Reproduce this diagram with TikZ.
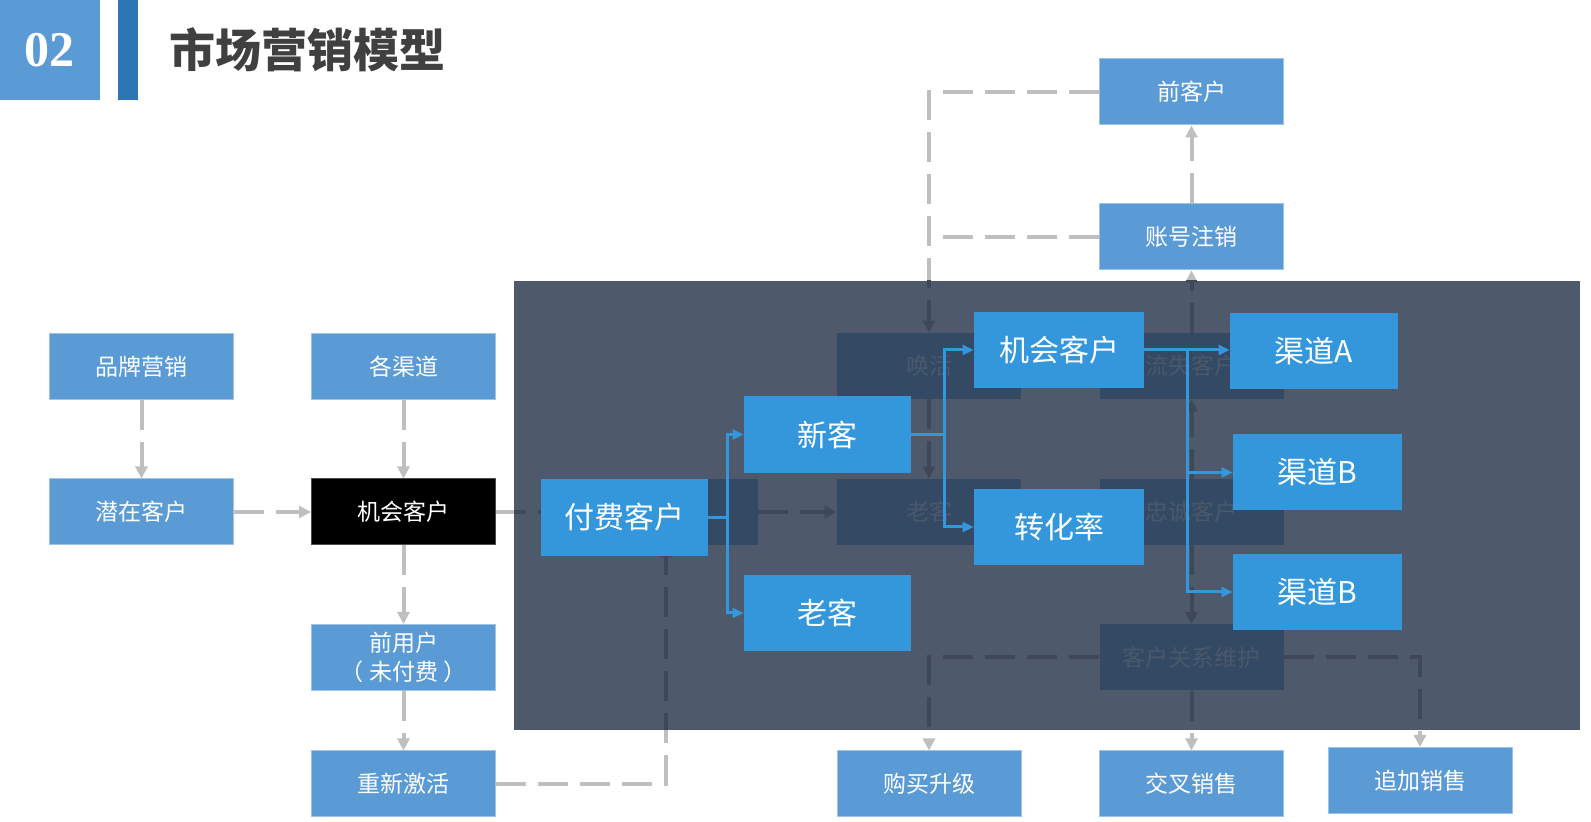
\documentclass[tikz,border=0pt]{standalone}
\usepackage{fontspec}
\setmainfont{Noto Sans CJK SC}
\newfontfamily\numfont{Liberation Serif}
\usetikzlibrary{positioning,arrows.meta,calc}
\definecolor{litefill}{RGB}{91,155,213}
\definecolor{liteline}{RGB}{157,195,230}
\definecolor{barblue}{RGB}{46,117,182}
\definecolor{hotfill}{RGB}{52,150,219}
\definecolor{veilc}{RGB}{78,90,107}
\definecolor{hidfill}{RGB}{52,74,100}
\definecolor{hidtext}{RGB}{74,88,108}
\definecolor{hidline}{RGB}{62,72,88}
\definecolor{linkgray}{RGB}{191,191,191}
\definecolor{titlegray}{RGB}{64,64,64}
\colorlet{linkc}{linkgray}
\pgfdeclarelayer{lines}
\pgfdeclarelayer{veil}
\pgfdeclarelayer{hid}
\pgfsetlayers{lines,veil,hid,main}
\tikzset{
  >={Triangle[length=6pt,width=6pt]},
  litebox/.style={draw=liteline,line width=0.5pt,fill=litefill,text=white,
    minimum width=92pt,minimum height=33pt,inner sep=0pt,align=center,
    font=\fontsize{11.5}{14.5}\selectfont},
  blackbox/.style={litebox,fill=black,draw=black!70},
  hidbox/.style={fill=hidfill,text=hidtext,minimum width=92pt,
    minimum height=33pt,inner sep=0pt,font=\fontsize{11.5}{14.5}\selectfont},
  hotbox/.style={fill=hotfill,text=white,minimum width=84pt,
    minimum height=38pt,inner sep=0pt,font=\fontsize{15}{18}\selectfont},
  dlink/.style={->,draw=linkc,line width=2pt,dash pattern=on 15pt off 6pt},
  flow/.style={-{Triangle[length=5.5pt,width=5pt]},draw=hotfill,line width=1.5pt},
}
% all gray dashed links, drawn twice (outside and under the veil)
\newcommand{\marketlinks}{%
  \draw[dlink] (brand) -- (pot);
  \draw[dlink] (chan) -- (opp);
  \draw[dlink] (pot) -- (opp);
  \draw[dlink] (opp) -- (prev);
  \draw[dlink] (prev) -- (react);
  \draw[dlink] (opp) -- (hpay);
  \draw[dlink] (hpay) -- (hold);
  \draw[dlink] (react.east) -| (hpay.south);
  \draw[dlink] (former.west) -| (wake.north);
  \draw[dlink,-] (cancel.west) -- (cancel.west -| wake.north);
  \draw[dlink] (cancel) -- (former);
  \draw[dlink] (lost) -- (cancel);
  \draw[dlink] (wake) -- (hold);
  \draw[dlink] (loyal) -- (lost);
  \draw[dlink] (loyal) -- (crm);
  \draw[dlink] (crm) -- (cross);
  \draw[dlink] (crm.west) -| (upg.north);
  \draw[dlink] (crm.east) -| (addon.north);
}
\begin{document}
\begin{tikzpicture}[x=0.5pt,y=-0.5pt]
  \useasboundingbox (0,0) rectangle (1591,822);
  % header
  \fill[litefill] (0,0) rectangle (100,100);
  \node[text=white,font=\numfont\bfseries\fontsize{25}{25}\selectfont] (num) at (50,50) {02};
  \fill[barblue] (118,0) rectangle (138,100);
  \node[anchor=west,inner sep=0pt,text=titlegray,
    font=\bfseries\fontsize{23}{23}\selectfont] (title) at (169,50) {市场营销模型};

  % boxes outside the veil
  \node[litebox] (brand) at (141.5,367) {品牌营销};
  \node[litebox] (chan) at (403.5,367) {各渠道};
  \node[litebox] (pot) at (141.5,512) {潜在客户};
  \node[blackbox] (opp) at (403.5,512) {机会客户};
  \node[litebox] (prev) at (403.5,657.5) {前用户\\（ 未付费 ）};
  \node[litebox] (react) at (403.5,784) {重新激活};
  \node[litebox] (former) at (1191.5,92) {前客户};
  \node[litebox] (cancel) at (1191.5,237) {账号注销};
  \node[litebox] (upg) at (929,784) {购买升级};
  \node[litebox] (cross) at (1191.5,784) {交叉销售};
  \node[litebox] (addon) at (1420,780.5) {追加销售};

  \begin{pgfonlayer}{veil}
    \fill[veilc] (514,281) rectangle (1580,730);
  \end{pgfonlayer}

  % boxes under the veil
  \begin{pgfonlayer}{hid}
    \node[hidbox] (hpay) at (665.5,512) {};
    \node[hidbox] (wake) at (929,366) {唤活};
    \node[hidbox] (hold) at (929,512) {老客};
    \node[hidbox] (lost) at (1191.5,366) {流失客户};
    \node[hidbox] (loyal) at (1191.5,512) {忠诚客户};
    \node[hidbox] (crm) at (1191.5,657.5) {客户关系维护};
  \end{pgfonlayer}

  \begin{pgfonlayer}{lines}
    \marketlinks
  \end{pgfonlayer}
  \begin{pgfonlayer}{hid}
    \begin{scope}
      \clip (514,281) rectangle (1580,730);
      \colorlet{linkc}{hidline}
      \marketlinks
    \end{scope}
  \end{pgfonlayer}

  % bright boxes on top
  \node[hotbox,minimum width=83.5pt,minimum height=38.5pt] (pay) at (624.5,517.5) {付费客户};
  \node[hotbox,minimum width=83.5pt,minimum height=38.5pt] (newc) at (827.5,434.5) {新客};
  \node[hotbox,minimum width=83.5pt] (oldc) at (827.5,613) {老客};
  \node[hotbox,minimum width=85pt] (opp2) at (1059,350) {机会客户};
  \node[hotbox,minimum width=85pt] (conv) at (1059,527) {转化率};
  \node[hotbox] (chA) at (1314,351) {渠道A};
  \node[hotbox,minimum width=84.5pt] (chB1) at (1317.5,472.5) {渠道B};
  \node[hotbox,minimum width=84.5pt] (chB2) at (1317.5,592) {渠道B};

  \coordinate (j1) at (727,517.5);
  \coordinate (j2) at (944,434.5);
  \coordinate (j3) at (1187,350);
  \draw[flow] (pay.east) -- (j1) |- (newc.west);
  \draw[flow] (j1) |- (oldc.west);
  \draw[flow] (newc.east) -- (j2) |- (opp2.west);
  \draw[flow] (j2) |- (conv.west);
  \draw[flow] (opp2.east) -- (opp2.east -| chA.west);
  \draw[flow] (j3) |- (chB1.west);
  \draw[flow] (j3) |- (chB2.west);
\end{tikzpicture}
\end{document}
